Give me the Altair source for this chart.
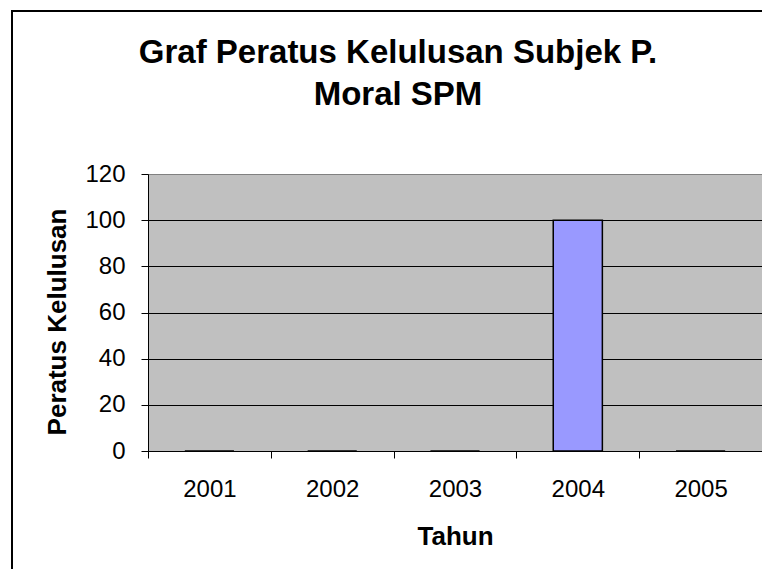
import altair as alt
import pandas as pd

years = ["2001", "2002", "2003", "2004", "2005"]
values = [0, 0, 0, 100, 0]
y_ticks = [0, 20, 40, 60, 80, 100, 120]
title_lines = ["Graf Peratus Kelulusan Subjek P.", "Moral SPM"]

df = pd.DataFrame({"Tahun": years, "Peratus": values})
frame_df = pd.DataFrame({"k": [0]})

FONT = "Liberation Sans"

frame = alt.Chart(frame_df).mark_rect(
    fillOpacity=0, stroke="black", strokeWidth=2
).encode(
    x=alt.value(-136), x2=alt.value(2000),
    y=alt.value(-163), y2=alt.value(2000),
)

bars = alt.Chart(df).mark_bar(
    width={"band": 0.4}, color="#9999FF", stroke="black", strokeWidth=1.5
).encode(
    x=alt.X(
        "Tahun:N", sort=years,
        scale=alt.Scale(domain=years, paddingInner=0, paddingOuter=0),
        axis=alt.Axis(
            title="Tahun", labelAngle=0, tickBand="extent", tickSize=7,
            tickColor="black", domainColor="black", labelColor="black",
            labelFontSize=24, labelPadding=19, labelFont=FONT,
            titleFontSize=26, titleFontWeight="bold", titleFont=FONT,
            titleColor="black", titleX=307, titleY=72,
            titleBaseline="top", titleAlign="center", grid=False,
        ),
    ),
    y=alt.Y(
        "Peratus:Q",
        scale=alt.Scale(domain=[0, 120], nice=False),
        axis=alt.Axis(
            values=y_ticks, title="Peratus Kelulusan", tickSize=7,
            tickColor="black", domainColor="black", labelColor="black",
            labelFontSize=24, labelPadding=16, labelFont=FONT,
            titleFontSize=26, titleFontWeight="bold", titleFont=FONT,
            titleColor="black", titleAngle=270, titleX=-91, titleY=147.5,
            titleBaseline="middle", titleAlign="center",
            grid=True, gridWidth=1,
            gridColor={"condition": {"test": "datum.value === 120", "value": "#808080"}, "value": "black"},
        ),
    ),
)

chart = alt.layer(frame, bars).properties(
    width=614, height=277,
    autosize=alt.AutoSizeParams(type="none"),
    padding={"left": 140, "top": 166, "right": 0, "bottom": 118},
    title=alt.TitleParams(
        text=title_lines, fontSize=33, fontWeight="bold", font=FONT,
        color="black", anchor="middle", frame="group", dx=-57, dy=106,
        lineHeight=42,
    ),
).configure(
    background="white",
    view=alt.ViewConfig(fill="#C0C0C0", stroke="#808080", strokeWidth=1),
)

chart.save("out.html", embed_options={"renderer": "svg", "actions": False})
